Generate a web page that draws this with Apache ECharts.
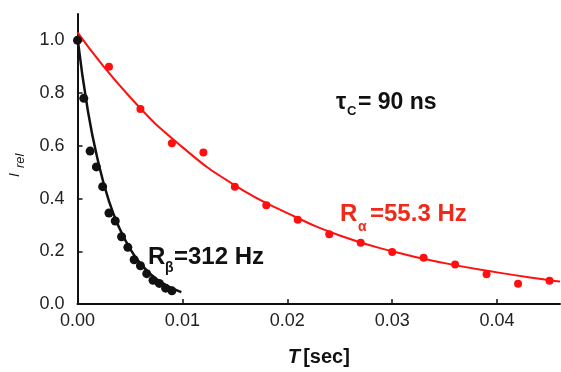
<!DOCTYPE html>
<html>
<head>
<meta charset="utf-8">
<script src="https://cdn.jsdelivr.net/npm/echarts@6/dist/echarts.min.js"></script>
<style>
  html, body {margin: 0; padding: 0; background: #fff;}
  #chart {width: 561px; height: 372px;}
</style>
</head>
<body>
<div id="chart"></div>
<script>
// measured points, T in seconds
const betaT = [0, 0.0006, 0.0012, 0.0018, 0.0024, 0.003, 0.0036, 0.0042, 0.0048, 0.0054, 0.006, 0.0066, 0.0072, 0.0078, 0.0084, 0.009];
const betaI = [1.0, 0.78, 0.58, 0.52, 0.445, 0.345, 0.315, 0.255, 0.215, 0.168, 0.145, 0.115, 0.09, 0.078, 0.06, 0.05];
const alphaT = [0.003, 0.006, 0.009, 0.012, 0.015, 0.018, 0.021, 0.024, 0.027, 0.03, 0.033, 0.036, 0.039, 0.042, 0.045];
const alphaI = [0.90, 0.74, 0.61, 0.575, 0.445, 0.375, 0.32, 0.265, 0.232, 0.197, 0.175, 0.15, 0.113, 0.077, 0.088];

// fitted curves
const betaFitT = [0, 0.001, 0.002, 0.003, 0.004, 0.005, 0.006, 0.007, 0.008, 0.009, 0.0099];
const betaFitI = [1.01, 0.73, 0.535, 0.39, 0.287, 0.21, 0.154, 0.112, 0.082, 0.06, 0.045];
const alphaFitT = [0, 0.005, 0.01, 0.015, 0.02, 0.025, 0.03, 0.035, 0.04, 0.045, 0.046];
const alphaFitI = [1.03, 0.785, 0.595, 0.45, 0.345, 0.26, 0.20, 0.155, 0.12, 0.09, 0.085];

const xTicks = [0, 0.01, 0.02, 0.03, 0.04];
const yTicks = [0, 0.2, 0.4, 0.6, 0.8, 1.0];

const zip = (a, b) => a.map((v, i) => [v, b[i]]);
const font = 'Liberation Sans, Arial, sans-serif';
const red = '#ff1010';
const redText = '#f02a1a';

const chart = echarts.init(document.getElementById('chart'));
chart.setOption({
  animation: false,
  grid: {left: 77.5, right: 1, top: 14, bottom: 59},
  xAxis: {
    type: 'value', min: 0, max: 0.046,
    name: '{i|T} {b|[sec]}',
    nameLocation: 'middle', nameGap: 43,
    nameTextStyle: {
      rich: {
        i: {fontFamily: font, fontSize: 20, fontWeight: 'bold', fontStyle: 'italic', color: '#111'},
        b: {fontFamily: font, fontSize: 20, fontWeight: 'bold', color: '#111'}
      }
    },
    axisLine: {lineStyle: {color: '#111', width: 2}},
    axisTick: {inside: true, length: 5, lineStyle: {color: '#111', width: 1.5}, customValues: xTicks},
    axisLabel: {
      customValues: xTicks, margin: 8,
      fontFamily: font, fontSize: 18, color: '#222',
      formatter: v => v.toFixed(2)
    },
    splitLine: {show: false}
  },
  yAxis: {
    type: 'value', min: 0, max: 1.1,
    axisLine: {show: true, lineStyle: {color: '#111', width: 2}},
    axisTick: {show: true, inside: true, length: 5, lineStyle: {color: '#111', width: 1.5}, customValues: yTicks},
    axisLabel: {
      customValues: yTicks, margin: 13,
      fontFamily: font, fontSize: 18, color: '#222',
      formatter: v => v.toFixed(1)
    },
    splitLine: {show: false}
  },
  series: [
    {
      type: 'line', data: zip(alphaFitT, alphaFitI), smooth: true,
      showSymbol: false, lineStyle: {color: red, width: 2}, z: 2
    },
    {
      type: 'scatter', data: zip(alphaT, alphaI),
      symbolSize: 8, itemStyle: {color: red, opacity: 1}, z: 3
    },
    {
      type: 'line', data: zip(betaFitT, betaFitI), smooth: true,
      showSymbol: false, lineStyle: {color: '#111', width: 2.5}, z: 4
    },
    {
      type: 'scatter', data: zip(betaT, betaI),
      symbolSize: 9, itemStyle: {color: '#111', opacity: 1}, z: 5
    }
  ],
  graphic: [
    // y axis name, rotated
    {type: 'text', x: 8, y: 177, rotation: Math.PI / 2, style: {text: 'I', font: 'italic 14px ' + font, fill: '#111'}},
    {type: 'text', x: 14, y: 168, rotation: Math.PI / 2, style: {text: 'rel', font: 'italic 13px ' + font, fill: '#111'}},

    {type: 'text', x: 336, y: 91, style: {text: 'τ', font: 'bold 23px ' + font, fill: '#111'}},
    {type: 'text', x: 347, y: 105, style: {text: 'C', font: 'bold 13px ' + font, fill: '#111'}},
    {type: 'text', x: 358, y: 91, style: {text: '= 90 ns', font: 'bold 23px ' + font, fill: '#111'}},

    {type: 'text', x: 148, y: 245, style: {text: 'R', font: 'bold 24px ' + font, fill: '#111'}},
    {type: 'text', x: 165, y: 261, style: {text: 'β', font: 'bold 14px ' + font, fill: '#111'}},
    {type: 'text', x: 174, y: 245, style: {text: '=312 Hz', font: 'bold 24px ' + font, fill: '#111'}},

    {type: 'text', x: 340, y: 202, style: {text: 'R', font: 'bold 24px ' + font, fill: redText}},
    {type: 'text', x: 358, y: 220, style: {text: 'α', font: 'bold 14px ' + font, fill: redText}},
    {type: 'text', x: 370, y: 202, style: {text: '=55.3 Hz', font: 'bold 24px ' + font, fill: redText}}
  ]
});
</script>
</body>
</html>
